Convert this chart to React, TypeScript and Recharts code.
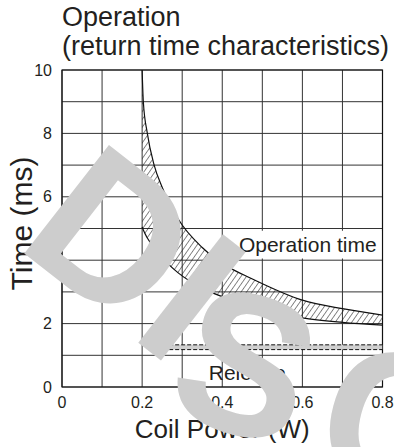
import React from "react";
import {
  ComposedChart,
  Area,
  Line,
  XAxis,
  YAxis,
  CartesianGrid,
  ReferenceArea,
  Label,
} from "recharts";

// operation time band (coil power in W, time in ms)
const opPower = [0.2, 0.203, 0.213, 0.23, 0.25, 0.29, 0.35, 0.42, 0.47, 0.6, 0.7, 0.8];
const opUpper = [10, 9, 8, 7, 6.3, 5.3, 4.4, 3.75, 3.44, 2.74, 2.47, 2.27];
const opLower = [5.05, 4.95, 4.7, 4.4, 4.08, 3.6, 3.12, 2.76, 2.56, 2.18, 2.04, 1.95];

// release time band
const relPower = [0.2375, 0.8];
const relUpper = [1.33, 1.33];
const relLower = [1.18, 1.18];

const xTicks = [0, 0.2, 0.4, 0.6, 0.8];
const yTicks = [0, 2, 4, 6, 8, 10];
const xGrid = [0, 0.1, 0.2, 0.3, 0.4, 0.5, 0.6, 0.7, 0.8];
const yGrid = [0, 1, 2, 3, 4, 5, 6, 7, 8, 9, 10];

// watermark letters laid over the picture
const markLetters = ["D", "I", "S", "C"];
const markX = [115, 194, 247, 396];
const markY = [233, 295, 362, 420];
const markAngle = [38, 38, 18, 15];

const FONT = "'Liberation Sans', Arial, Helvetica, sans-serif";
const INK = "#231f20";

const opData = opPower.map((p, i) => ({
  p,
  band: [opLower[i], opUpper[i]],
  lo: opLower[i],
  hi: opUpper[i],
}));

const relData = relPower.map((p, i) => ({
  p,
  band: [relLower[i], relUpper[i]],
  lo: relLower[i],
  hi: relUpper[i],
}));

const YTitle = (props: any) => {
  const vb = props.viewBox;
  const x = vb.x + 32;
  const y = vb.y + vb.height / 2 - 5;
  return (
    <text
      x={x}
      y={y}
      transform={`rotate(-90 ${x} ${y})`}
      textAnchor="middle"
      fontSize={30}
      fontFamily={FONT}
      fill={INK}
    >
      Time (ms)
    </text>
  );
};

export default function App() {
  return (
    <div style={{ position: "absolute", left: 0, top: 0, width: 394, height: 447, background: "#fff", fontFamily: FONT }}>
      <div style={{ position: "absolute", left: 62, top: 4, fontSize: 27, lineHeight: "27px", color: INK, whiteSpace: "nowrap" }}>
        Operation
      </div>
      <div style={{ position: "absolute", left: 62, top: 32.5, fontSize: 27, lineHeight: "27px", color: INK, whiteSpace: "nowrap" }}>
        (return time characteristics)
      </div>
      <ComposedChart
        width={394}
        height={447}
        margin={{ top: 70, right: 11.5, bottom: 0, left: 0 }}
        style={{ position: "absolute", left: 0, top: 0 }}
      >
        <defs>
          <pattern id="hatch" width="4.5" height="4.5" patternUnits="userSpaceOnUse" patternTransform="rotate(35)">
            <line x1="0" y1="0" x2="0" y2="4.5" stroke="#111" strokeWidth="1" />
          </pattern>
        </defs>
        <CartesianGrid
          verticalValues={xGrid}
          horizontalValues={yGrid}
          stroke="#333"
          strokeWidth={1}
        />
        <XAxis
          type="number"
          dataKey="p"
          domain={[0, 0.8]}
          ticks={xTicks}
          allowDataOverflow
          axisLine={false}
          tickLine={false}
          tickMargin={4}
          height={60}
          tick={{ fontSize: 16, fill: INK, fontFamily: FONT }}
        >
          <Label
            value="Coil Power (W)"
            position="insideBottom"
            offset={9}
            style={{ fontSize: 26, fill: INK, fontFamily: FONT }}
          />
        </XAxis>
        <YAxis
          type="number"
          domain={[0, 10]}
          ticks={yTicks}
          allowDataOverflow
          axisLine={false}
          tickLine={false}
          tickMargin={4}
          width={62}
          tick={{ fontSize: 16, fill: INK, fontFamily: FONT }}
        >
          <Label content={YTitle} />
        </YAxis>
        <ReferenceArea x1={0} x2={0.8} y1={0} y2={10} fill="none" stroke="#111" strokeWidth={1.2} />
        <Area
          data={opData}
          dataKey="band"
          type="monotone"
          fill="url(#hatch)"
          fillOpacity={1}
          stroke="none"
          isAnimationActive={false}
        />
        <Line data={opData} dataKey="hi" type="monotone" stroke="#111" strokeWidth={1.2} dot={false} isAnimationActive={false} />
        <Line data={opData} dataKey="lo" type="monotone" stroke="#111" strokeWidth={1.2} dot={false} isAnimationActive={false} />
        <Area
          data={relData}
          dataKey="band"
          type="linear"
          fill="#cfcfcf"
          fillOpacity={1}
          stroke="none"
          isAnimationActive={false}
        />
        <Line data={relData} dataKey="hi" type="linear" stroke="#111" strokeWidth={1} strokeDasharray="4 2" dot={false} isAnimationActive={false} />
        <Line data={relData} dataKey="lo" type="linear" stroke="#111" strokeWidth={1} strokeDasharray="4 2" dot={false} isAnimationActive={false} />
        <ReferenceArea x1={0.43} x2={0.797} y1={4.05} y2={4.93} fill="#fff" fillOpacity={1} stroke="none">
          <Label value="Operation time" position="center" style={{ fontSize: 21, fill: INK, fontFamily: FONT }} />
        </ReferenceArea>
        <ReferenceArea x1={0.41} x2={0.515} y1={0.2} y2={0.7} fill="none" stroke="none">
          <Label value="Release" position="center" style={{ fontSize: 21, fill: INK, fontFamily: FONT }} />
        </ReferenceArea>
      </ComposedChart>
      <svg width={394} height={447} style={{ position: "absolute", left: 0, top: 0, pointerEvents: "none" }}>
        {markLetters.map((ch, i) => (
          <text
            key={ch}
            x={markX[i]}
            y={markY[i]}
            dy="0.36em"
            textAnchor="middle"
            transform={`rotate(${markAngle[i]} ${markX[i]} ${markY[i]})`}
            fontSize={200}
            fontWeight="bold"
            fontFamily={FONT}
            fill="#cdcdcd"
          >
            {ch}
          </text>
        ))}
      </svg>
    </div>
  );
}
